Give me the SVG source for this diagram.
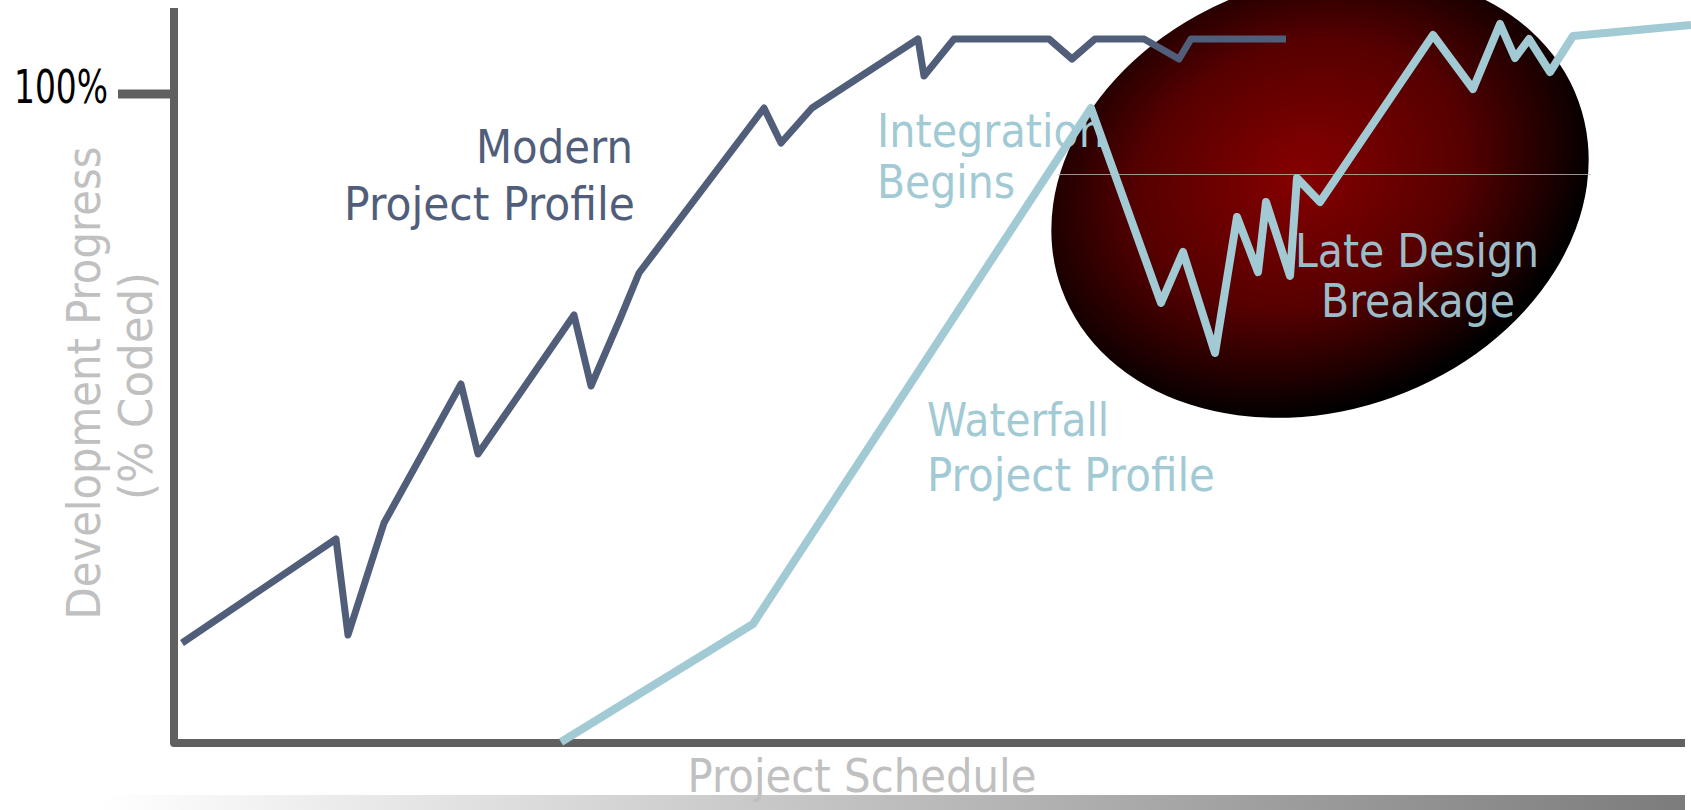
<svg xmlns="http://www.w3.org/2000/svg" width="1691" height="810" viewBox="0 0 1691 810">
  <defs>
    <radialGradient id="redGlow" cx="0.48" cy="0.44" r="0.55" fx="0.48" fy="0.44">
      <stop offset="0" stop-color="#860000"/>
      <stop offset="0.55" stop-color="#560000"/>
      <stop offset="0.85" stop-color="#1e0000"/>
      <stop offset="1" stop-color="#000000"/>
    </radialGradient>
    <linearGradient id="barGrad" gradientUnits="userSpaceOnUse" x1="100" y1="0" x2="1685" y2="0">
      <stop offset="0" stop-color="#ffffff"/>
      <stop offset="1" stop-color="#7c7c7c"/>
    </linearGradient>
  </defs>
  <style>
    .lbl { font-family: "DejaVu Sans", "Liberation Sans", sans-serif; font-size: 46px; }
    .axislbl { fill: #c0c0c0; }
    .modern { fill: #505e7a; }
    .water { fill: #a2cad4; }
    .late { fill: #9bbdc9; }
    .axis { fill: none; stroke: #606060; stroke-width: 8; stroke-linejoin: round; }
    .lineModern { fill: none; stroke: #505e7a; stroke-width: 7; stroke-linejoin: round; stroke-linecap: butt; }
    .lineWater { fill: none; stroke: #a2cad4; stroke-width: 8; stroke-linejoin: round; stroke-linecap: butt; }
  </style>
  <rect width="1691" height="810" fill="#ffffff"/>

  <!-- bottom gradient bar -->
  <rect id="bottom-bar" x="0" y="795" width="1685" height="15" fill="url(#barGrad)"/>

  <!-- highlight ellipse -->
  <g id="late-breakage-zone">
    <ellipse cx="1320" cy="195" rx="275" ry="215" transform="rotate(-20 1320 195)" fill="url(#redGlow)"/>
    <line x1="1058" y1="174.5" x2="1591" y2="174.5" stroke="#b8b8b8" stroke-width="1" opacity="0.8"/>
  </g>

  <!-- axes -->
  <g id="axes">
    <polyline class="axis" points="174,8 174,743 1685,743"/>
    <line x1="118" y1="94" x2="174" y2="94" stroke="#606060" stroke-width="9"/>
    <text class="lbl" x="14" y="103" font-size="36" fill="#000000" textLength="94" lengthAdjust="spacingAndGlyphs">100%</text>
    <text class="lbl axislbl" x="862" y="792" text-anchor="middle" textLength="349" lengthAdjust="spacingAndGlyphs">Project Schedule</text>
    <text class="lbl axislbl" transform="translate(100,383) rotate(-90)" x="0" y="0" font-size="50" text-anchor="middle" textLength="473" lengthAdjust="spacingAndGlyphs">Development Progress</text>
    <text class="lbl axislbl" transform="translate(152,386) rotate(-90)" x="0" y="0" font-size="50" text-anchor="middle" textLength="228" lengthAdjust="spacingAndGlyphs">(% Coded)</text>
  </g>

  <!-- profile curves -->
  <g id="connectors">
    <polyline id="modern-profile" class="lineModern" points="182,643 336,539 348,635 384,523 461,384 478,454 574,315 591,386 620,319 639,273 764,108 781,143 812,108 918,39 924,76 954,39 1049,39 1072,59 1095,39 1144,39 1179,59 1191,39 1286,39"/>
    <polyline id="waterfall-profile" class="lineWater" points="561,742 753,624 1091,108 1161,303 1183,252 1215,353 1237,217 1258,272 1266,202 1290,276 1297,178 1320,202 1433,35 1473,89 1500,24 1515,58 1529,39 1550,72 1573,36 1691,25"/>
  </g>

  <!-- labels -->
  <g id="label-modern">
    <text class="lbl modern" x="633" y="163" text-anchor="end" textLength="157" lengthAdjust="spacingAndGlyphs">Modern</text>
    <text class="lbl modern" x="635" y="220" text-anchor="end" textLength="291" lengthAdjust="spacingAndGlyphs">Project Profile</text>
  </g>
  <g id="label-integration">
    <text class="lbl water" x="877" y="147" textLength="228" lengthAdjust="spacingAndGlyphs">Integration</text>
    <text class="lbl water" x="877" y="198" textLength="138" lengthAdjust="spacingAndGlyphs">Begins</text>
  </g>
  <g id="label-waterfall">
    <text class="lbl water" x="927" y="436" textLength="182" lengthAdjust="spacingAndGlyphs">Waterfall</text>
    <text class="lbl water" x="927" y="491" textLength="288" lengthAdjust="spacingAndGlyphs">Project Profile</text>
  </g>
  <g id="label-late">
    <text class="lbl late" x="1295" y="267" textLength="244" lengthAdjust="spacingAndGlyphs">Late Design</text>
    <text class="lbl late" x="1321" y="317" textLength="194" lengthAdjust="spacingAndGlyphs">Breakage</text>
  </g>
</svg>
